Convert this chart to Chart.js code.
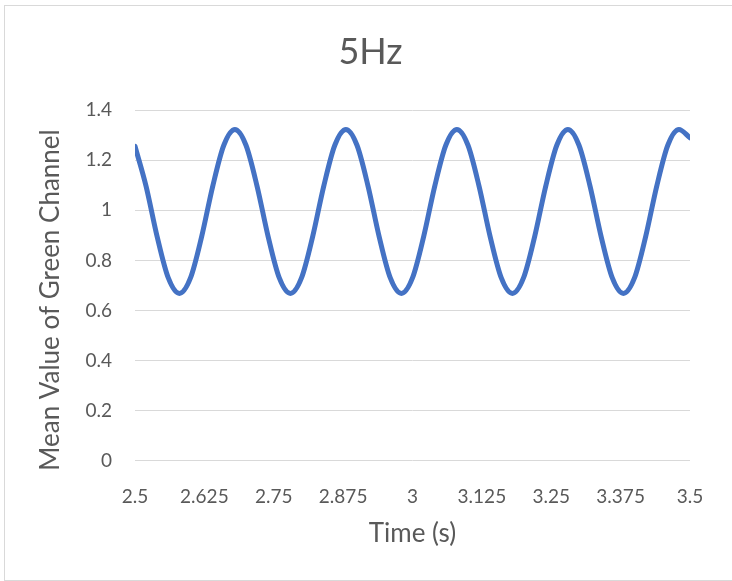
<!DOCTYPE html>
<html>
<head>
<meta charset="utf-8">
<script src="https://cdn.jsdelivr.net/npm/chart.js@4/dist/chart.umd.min.js"></script>
<style>
  html, body { margin: 0; padding: 0; background: #fff; overflow: hidden; }
  #wrap {
    position: absolute; left: 4px; top: 5px;
    width: 731px; height: 574px;
    border: 1px solid #d9d9d9;
  }
</style>
</head>
<body>
<div id="wrap"><canvas id="chart" width="731" height="574"></canvas></div>
<script>
// time (s) and mean green value
const times = [
    2.50, 2.52, 2.54, 2.56, 2.58, 2.60, 2.62, 2.64, 2.66, 2.68,
    2.70, 2.72, 2.74, 2.76, 2.78, 2.80, 2.82, 2.84, 2.86, 2.88,
    2.90, 2.92, 2.94, 2.96, 2.98, 3.00, 3.02, 3.04, 3.06, 3.08,
    3.10, 3.12, 3.14, 3.16, 3.18, 3.20, 3.22, 3.24, 3.26, 3.28,
    3.30, 3.32, 3.34, 3.36, 3.38, 3.40, 3.42, 3.44, 3.46, 3.48,
    3.50
];
const greenMean = [
    1.256, 1.096, 0.894, 0.730, 0.668, 0.730, 0.894, 1.096, 1.260, 1.323,
    1.260, 1.096, 0.894, 0.730, 0.668, 0.730, 0.894, 1.096, 1.260, 1.323,
    1.260, 1.096, 0.894, 0.730, 0.668, 0.730, 0.894, 1.096, 1.260, 1.323,
    1.260, 1.096, 0.894, 0.730, 0.668, 0.730, 0.894, 1.096, 1.260, 1.323,
    1.260, 1.096, 0.894, 0.730, 0.668, 0.730, 0.894, 1.096, 1.260, 1.323,
    1.290
];
const xTicks = [2.5, 2.625, 2.75, 2.875, 3, 3.125, 3.25, 3.375, 3.5];
const yTicks = [0, 0.2, 0.4, 0.6, 0.8, 1, 1.2, 1.4];

const textColor = '#595959';
const fontFamily = 'Lato, "Open Sans", sans-serif';

// y axis title drawn by hand so it can sit where Excel puts it
const yTitlePlugin = {
    id: 'yTitle',
    afterDraw(chart) {
        const ctx = chart.ctx;
        ctx.save();
        ctx.translate(46, 294);
        ctx.rotate(-Math.PI / 2);
        ctx.font = '26px ' + fontFamily;
        ctx.fillStyle = textColor;
        ctx.textAlign = 'center';
        ctx.textBaseline = 'middle';
        ctx.fillText('Mean Value of Green Channel', 0, 0);
        ctx.restore();
    }
};

const ctx = document.getElementById('chart').getContext('2d');
new Chart(ctx, {
    type: 'line',
    data: {
        datasets: [{
            data: times.map((t, i) => ({ x: t, y: greenMean[i] })),
            borderColor: '#4472C4',
            borderWidth: 5,
            borderCapStyle: 'round',
            borderJoinStyle: 'round',
            pointRadius: 0,
            cubicInterpolationMode: 'monotone',
            fill: false
        }]
    },
    options: {
        responsive: false,
        animation: false,
        layout: { padding: 0 },
        plugins: {
            legend: { display: false },
            tooltip: { enabled: false },
            title: {
                display: true,
                text: '5Hz',
                color: textColor,
                font: { family: fontFamily, size: 36, weight: 'normal' },
                padding: { top: 25, bottom: 36 }
            }
        },
        scales: {
            x: {
                type: 'linear',
                min: 2.5,
                max: 3.5,
                afterBuildTicks: s => { s.ticks = xTicks.map(v => ({ value: v })); },
                afterFit: s => { s.height = 119.3; },
                grid: { display: false },
                border: { display: false },
                ticks: {
                    color: textColor,
                    font: { family: fontFamily, size: 19 },
                    padding: 17,
                    maxRotation: 0,
                    autoSkip: false,
                    callback: v => String(v)
                },
                title: {
                    display: true,
                    text: 'Time (s)',
                    color: textColor,
                    font: { family: fontFamily, size: 26 },
                    padding: { top: 0, bottom: 31 }
                }
            },
            y: {
                min: 0,
                max: 1.4,
                afterBuildTicks: s => { s.ticks = yTicks.map(v => ({ value: v })); },
                afterFit: s => { s.width = 130; },
                grid: { color: '#d9d9d9', lineWidth: 1, drawTicks: false },
                border: { display: false },
                ticks: {
                    color: textColor,
                    font: { family: fontFamily, size: 19 },
                    padding: 23,
                    callback: v => String(v)
                }
            },
            // empty right-hand spacer so the title stays centred on the whole chart
            yRight: {
                position: 'right',
                min: 0,
                max: 1,
                afterFit: s => { s.width = 46; },
                grid: { display: false },
                border: { display: false },
                ticks: { display: false }
            }
        }
    },
    plugins: [yTitlePlugin]
});
</script>
</body>
</html>
